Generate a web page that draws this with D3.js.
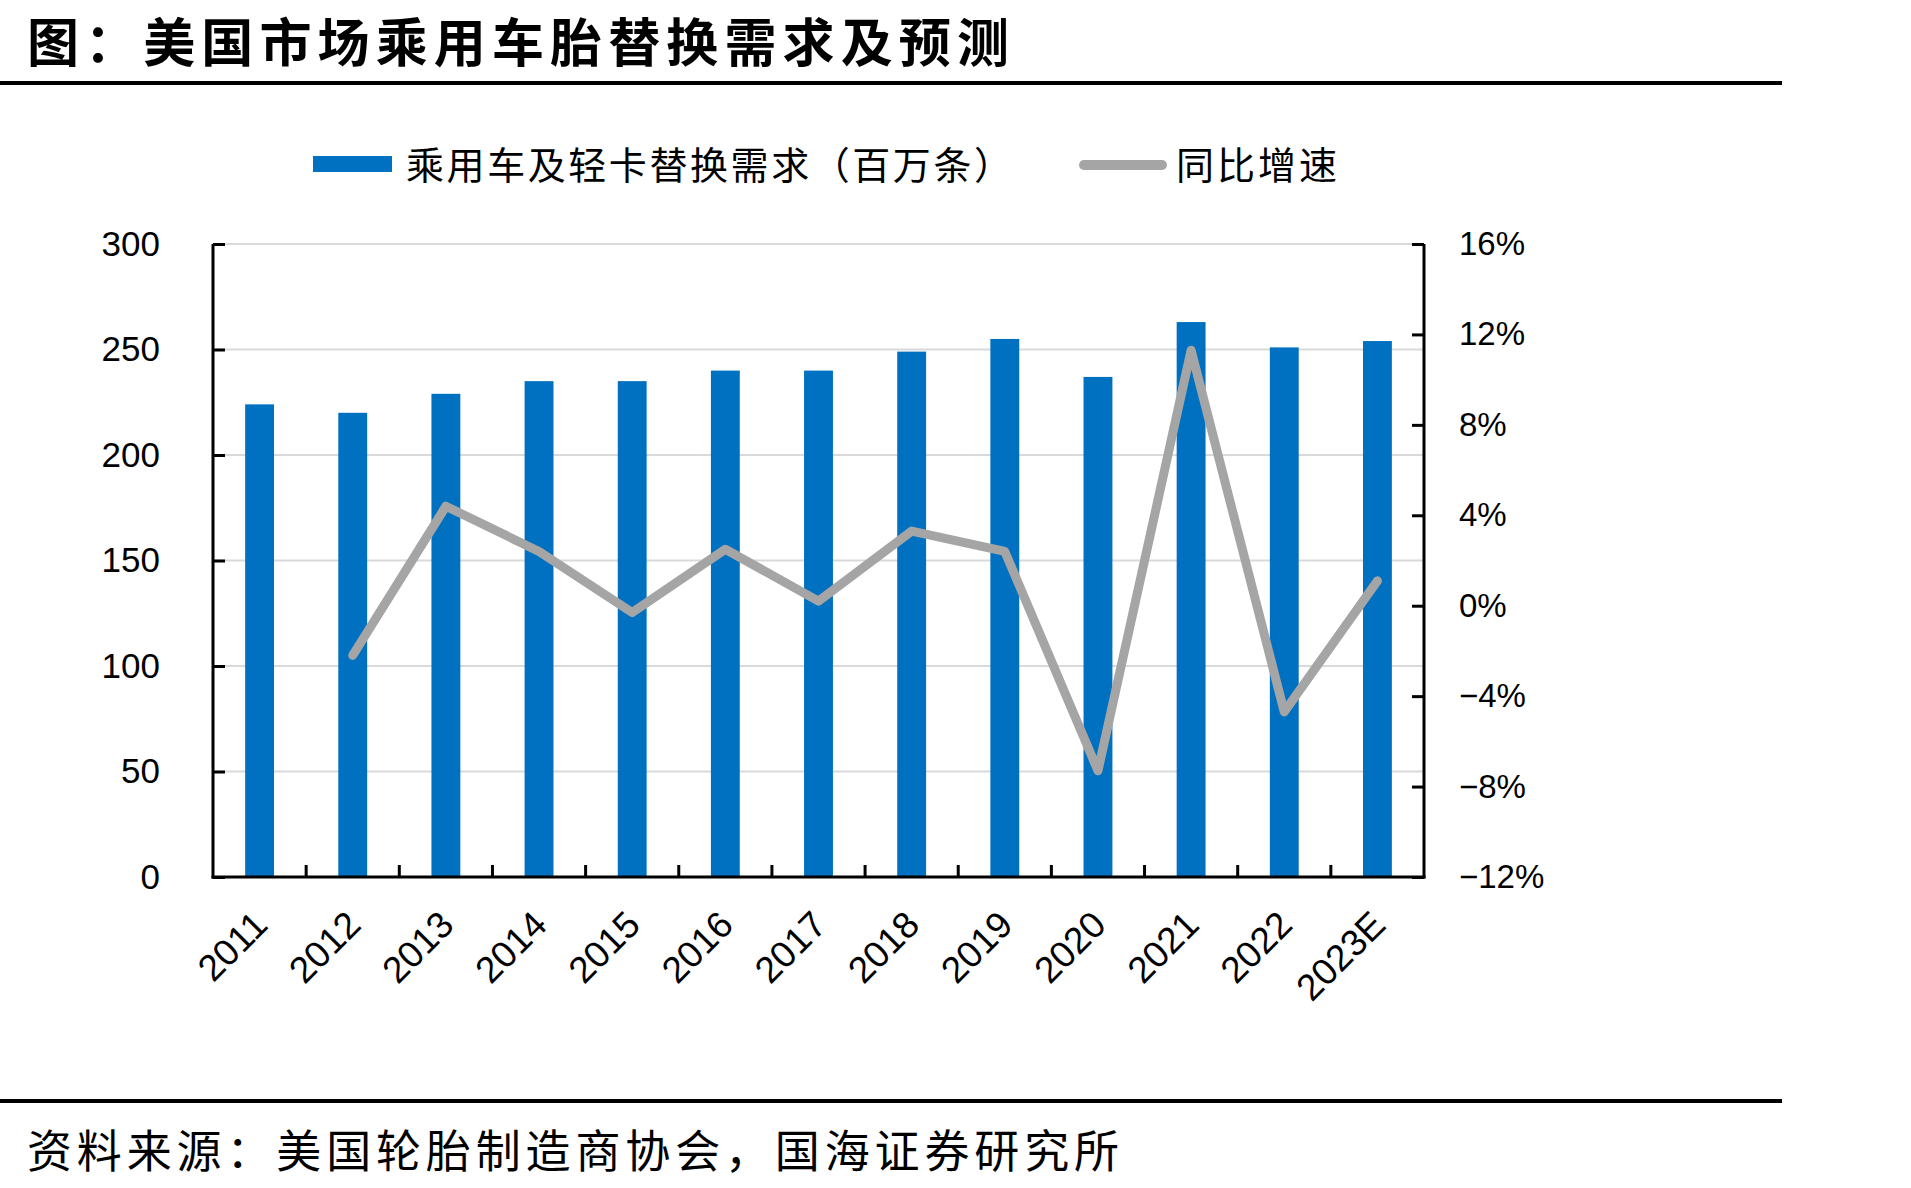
<!DOCTYPE html>
<html lang="zh">
<head>
    <meta charset="UTF-8">
    <title>美国市场乘用车胎替换需求及预测</title>
    <style>
        body { margin: 0; background: #fff; }
        svg { display: block; }
        .cjk { font-family: "Noto Sans CJK SC", sans-serif; }
        .num { font-family: "Liberation Sans", Arial, sans-serif; }
    </style>
</head>
<body>
    <svg id="chart" width="1911" height="1188"></svg>

    <script src="https://d3js.org/d3.v7.min.js"></script>
    <script>
        // data
        const years = ["2011", "2012", "2013", "2014", "2015", "2016", "2017",
                       "2018", "2019", "2020", "2021", "2022", "2023E"];
        const demand = [224, 220, 229, 235, 235, 240, 240, 249, 255, 237, 263, 251, 254];
        const growth = [null, -0.022, 0.044, 0.024, -0.003, 0.025, 0.002,
                        0.033, 0.024, -0.073, 0.113, -0.047, 0.011];
        const leftTicks = [0, 50, 100, 150, 200, 250, 300];
        const rightTicks = [-0.12, -0.08, -0.04, 0, 0.04, 0.08, 0.12, 0.16];

        const titleText = "图：美国市场乘用车胎替换需求及预测";
        const sourceText = "资料来源：美国轮胎制造商协会，国海证券研究所";
        const barName = "乘用车及轻卡替换需求（百万条）";
        const lineName = "同比增速";

        const svg = d3.select("#chart");
        const plotLeft = 213, plotRight = 1424, plotTop = 244, plotBottom = 877;

        const x = d3.scaleBand()
                    .domain(years)
                    .range([plotLeft, plotRight])
                    .paddingInner(0.69)
                    .paddingOuter(0.345);

        const y = d3.scaleLinear()
                    .domain([0, 300])
                    .range([plotBottom, plotTop]);

        const y2 = d3.scaleLinear()
                     .domain([-0.12, 0.16])
                     .range([plotBottom, plotTop]);

        const pct = d => (d < -1e-9 ? "\u2212" : "") + Math.abs(Math.round(d * 100)) + "%";

        // title and rules
        svg.append("text")
           .attr("class", "cjk")
           .attr("x", 27).attr("y", 39)
           .attr("dominant-baseline", "central")
           .attr("font-size", 52)
           .attr("font-weight", 700)
           .attr("textLength", 982)
           .attr("lengthAdjust", "spacing")
           .text(titleText);

        svg.append("rect").attr("x", 0).attr("y", 81).attr("width", 1782).attr("height", 4).attr("fill", "#000");
        svg.append("rect").attr("x", 0).attr("y", 1099).attr("width", 1782).attr("height", 4).attr("fill", "#000");

        svg.append("text")
           .attr("class", "cjk")
           .attr("x", 27).attr("y", 1148)
           .attr("dominant-baseline", "central")
           .attr("font-size", 45)
           .attr("textLength", 1092)
           .attr("lengthAdjust", "spacing")
           .text(sourceText);

        // legend
        const legend = svg.append("g");
        legend.append("rect")
              .attr("x", 313).attr("y", 156).attr("width", 79).attr("height", 16)
              .attr("fill", "#0070c0");
        legend.append("text")
              .attr("class", "cjk")
              .attr("x", 406).attr("y", 162)
              .attr("dominant-baseline", "central")
              .attr("font-size", 38)
              .attr("textLength", 606)
              .attr("lengthAdjust", "spacing")
              .text(barName);
        legend.append("line")
              .attr("x1", 1084).attr("x2", 1162).attr("y1", 165).attr("y2", 165)
              .attr("stroke", "#a5a5a5").attr("stroke-width", 10)
              .attr("stroke-linecap", "round");
        legend.append("text")
              .attr("class", "cjk")
              .attr("x", 1176).attr("y", 162)
              .attr("dominant-baseline", "central")
              .attr("font-size", 38)
              .attr("textLength", 161)
              .attr("lengthAdjust", "spacing")
              .text(lineName);

        // gridlines
        svg.append("g")
           .selectAll("line")
           .data(leftTicks.filter(d => d > 0))
           .join("line")
           .attr("x1", plotLeft).attr("x2", plotRight)
           .attr("y1", d => y(d)).attr("y2", d => y(d))
           .attr("stroke", "#d9d9d9").attr("stroke-width", 2);

        // bars
        svg.append("g")
           .selectAll("rect")
           .data(demand)
           .join("rect")
           .attr("x", (d, i) => x(years[i]))
           .attr("y", d => y(d))
           .attr("width", x.bandwidth())
           .attr("height", d => plotBottom - y(d))
           .attr("fill", "#0070c0");

        // growth line
        const line = d3.line()
                       .defined(d => d != null)
                       .x((d, i) => x(years[i]) + x.bandwidth() / 2)
                       .y(d => y2(d));

        svg.append("path")
           .datum(growth)
           .attr("d", line)
           .attr("fill", "none")
           .attr("stroke", "#a5a5a5")
           .attr("stroke-width", 9)
           .attr("stroke-linejoin", "round")
           .attr("stroke-linecap", "round");

        // left axis, ticks point inward
        const leftAxis = svg.append("g")
           .attr("transform", `translate(${plotLeft},0)`)
           .call(d3.axisRight(y).tickValues(leftTicks).tickSize(12).tickFormat(d3.format("d")));
        leftAxis.select(".domain").remove();
        leftAxis.selectAll(".tick line").attr("stroke", "#000").attr("stroke-width", 3);
        leftAxis.selectAll(".tick text")
                .attr("class", "num")
                .attr("x", -53)
                .attr("text-anchor", "end")
                .attr("font-size", 35)
                .attr("fill", "#000");

        // right axis, ticks point inward
        const rightAxis = svg.append("g")
           .attr("transform", `translate(${plotRight},0)`)
           .call(d3.axisLeft(y2).tickValues(rightTicks).tickSize(12).tickFormat(pct));
        rightAxis.select(".domain").remove();
        rightAxis.selectAll(".tick line").attr("stroke", "#000").attr("stroke-width", 3);
        rightAxis.selectAll(".tick text")
                 .attr("class", "num")
                 .attr("x", 35)
                 .attr("text-anchor", "start")
                 .attr("font-size", 33)
                 .attr("fill", "#000");

        // bottom axis: labels rotated, ticks between categories
        const bottomAxis = svg.append("g")
           .attr("transform", `translate(0,${plotBottom})`)
           .call(d3.axisBottom(x).tickSize(0));
        bottomAxis.select(".domain").remove();
        bottomAxis.selectAll(".tick text")
                  .attr("class", "num")
                  .attr("font-size", 37)
                  .attr("fill", "#000")
                  .attr("text-anchor", "end")
                  .attr("dy", null)
                  .attr("y", 0)
                  .attr("transform", "translate(10,50) rotate(-45)");

        const gap = x.step() - x.bandwidth();
        svg.append("g")
           .selectAll("line")
           .data(years.slice(1))
           .join("line")
           .attr("x1", d => x(d) - gap / 2).attr("x2", d => x(d) - gap / 2)
           .attr("y1", plotBottom).attr("y2", plotBottom - 12)
           .attr("stroke", "#000").attr("stroke-width", 3);

        // axis lines
        const axes = svg.append("g").attr("stroke", "#000").attr("stroke-width", 3);
        axes.append("line").attr("x1", plotLeft).attr("x2", plotLeft).attr("y1", plotTop).attr("y2", plotBottom + 1.5);
        axes.append("line").attr("x1", plotRight).attr("x2", plotRight).attr("y1", plotTop).attr("y2", plotBottom + 1.5);
        axes.append("line").attr("x1", plotLeft - 1.5).attr("x2", plotRight + 1.5).attr("y1", plotBottom).attr("y2", plotBottom);
    </script>
</body>
</html>
